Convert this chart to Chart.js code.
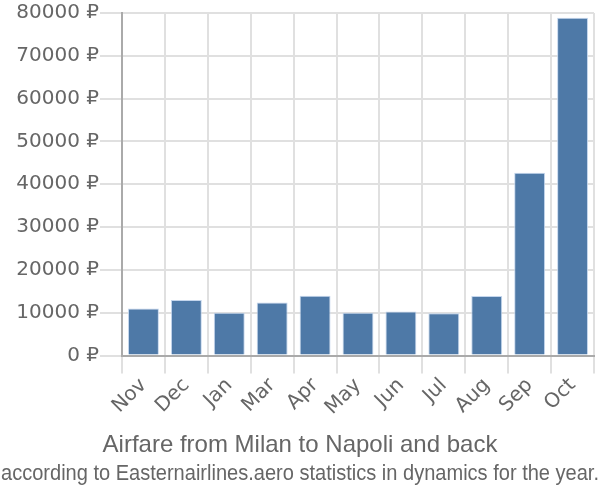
<!DOCTYPE html>
<html>
<head>
<meta charset="utf-8">
<script src="https://cdn.jsdelivr.net/npm/chart.js@4/dist/chart.umd.min.js"></script>
<style>
html,body{margin:0;padding:0;background:#fff;}
#wrap{width:600px;height:500px;}
</style>
</head>
<body>
<div id="wrap"><canvas id="c" width="600" height="500"></canvas></div>
<script>
const categories = ["Nov","Dec","Jan","Mar","Apr","May","Jun","Jul","Aug","Sep","Oct"];
const prices = [11000, 13000, 10000, 12400, 14000, 10000, 10300, 9900, 13900, 42700, 78900];
const yTicks = [0,10000,20000,30000,40000,50000,60000,70000,80000];
const titleText = "Airfare from Milan to Napoli and back";
const subtitleText = "according to Easternairlines.aero statistics in dynamics for the year.";

Chart.defaults.font.family = "'Liberation Sans', Arial, sans-serif";
Chart.defaults.color = "#666";
const axisFont = {family: "'DejaVu Sans', sans-serif", size: 20};

new Chart(document.getElementById('c'), {
  type: 'bar',
  data: {
    labels: categories,
    datasets: [{
      data: prices,
      backgroundColor: '#4e79a7',
      borderColor: 'rgba(190,210,235,0.9)',
      borderWidth: {top:1,left:1,right:1,bottom:0},
      barPercentage: 0.9,
      categoryPercentage: 0.8
    }]
  },
  options: {
    responsive: false,
    animation: false,
    layout: {padding: {left: 1, right: 1, top: 4, bottom: 12}},
    scales: {
      x: {
        grid: {color: '#e0e0e0', lineWidth: 2, tickLength: 18, offset: true},
        border: {color: '#aaa', width: 2},
        ticks: {font: axisFont, color: '#666', maxRotation: 45, minRotation: 45, padding: 0}
      },
      y: {
        min: 0, max: 80000,
        afterBuildTicks: (axis) => { axis.ticks = yTicks.map(v => ({value: v})); },
        afterFit: (axis) => { axis.width = 121; },
        grid: {color: '#e0e0e0', lineWidth: 2, tickLength: 22},
        border: {color: '#aaa', width: 2},
        ticks: {font: axisFont, color: '#666', padding: 1, callback: v => v + ' ₽'}
      },
      y2: {
        position: 'right',
        display: true,
        grid: {display: false},
        border: {display: false},
        ticks: {display: false},
        afterFit: (axis) => { axis.width = 5; }
      }
    },
    plugins: {
      legend: {display: false},
      tooltip: {enabled: false},
      title: {display: true, position: 'bottom', weight: 1000, text: titleText, font: {size: 24, weight: 'normal'}, color: '#666', padding: {top: 11, bottom: 0}},
      subtitle: {display: true, position: 'bottom', weight: 2000, text: subtitleText, font: {size: 22, weight: 'normal'}, color: '#666', padding: {top: 1, bottom: 1}}
    }
  }
});
</script>
</body>
</html>
